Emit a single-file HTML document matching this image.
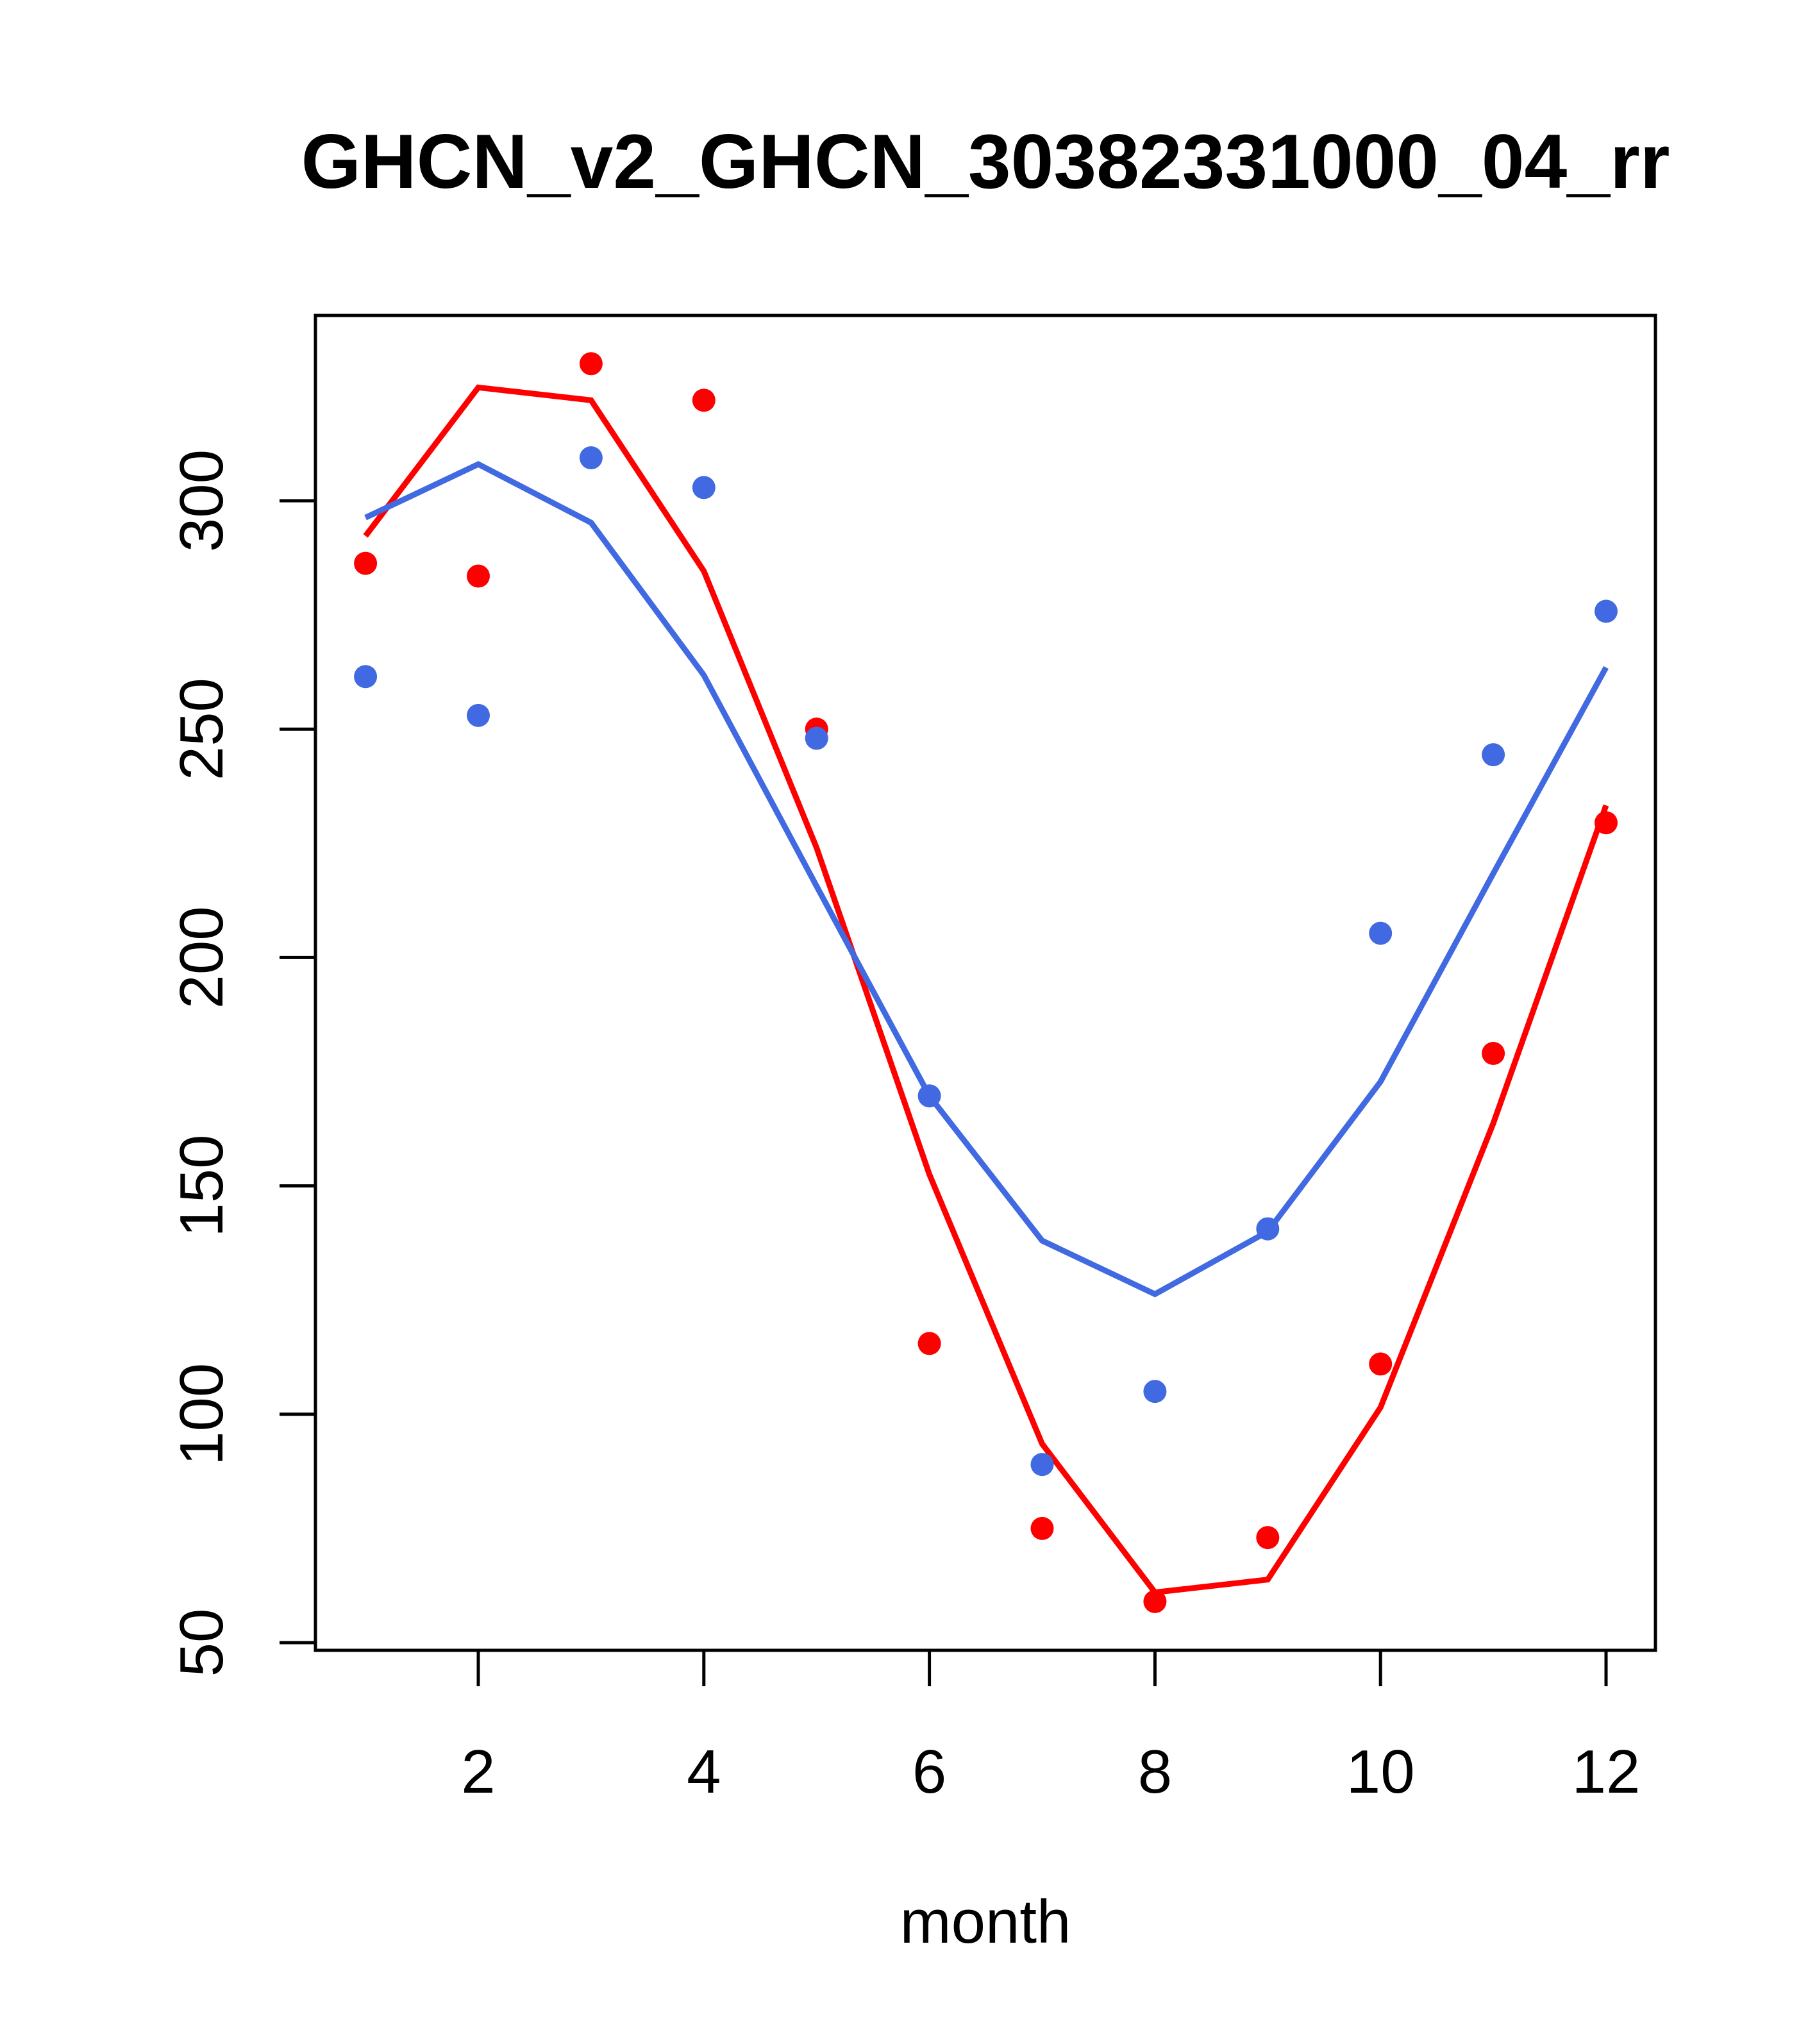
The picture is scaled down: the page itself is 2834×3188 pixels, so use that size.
<!DOCTYPE html>
<html><head><meta charset="utf-8"><style>html,body{margin:0;padding:0;background:#fff}svg{display:block}</style></head>
<body>
<svg id="chart" width="2834" height="3188" xmlns="http://www.w3.org/2000/svg" font-family="Liberation Sans, Arial, sans-serif">
<rect width="2834" height="3188" fill="#fff"/>
<text x="1537" y="293" font-size="120" font-weight="bold" text-anchor="middle">GHCN_v2_GHCN_30382331000_04_rr</text>
<g id="plot"></g>
<text x="1537" y="3030" font-size="96" text-anchor="middle">month</text>
</svg>
<script>
const months = [1,2,3,4,5,6,7,8,9,10,11,12];
const redPoints = [286.3,283.5,330,322,250,115.5,75,59,73,111,179,229.5];
const bluePoints = [261.5,253,309.4,302.9,248,169.7,89,105,140.6,205.3,244.4,275.8];
const redLine = [292.3,324.8,322,284.6,224,152.5,93.5,61,63.8,101.5,163.7,233.3];
const blueLine = [296.3,308,295.2,261.8,215.6,169.7,138,126.3,140,172.8,218.4,263.5];
const xTicks = [2,4,6,8,10,12];
const yTicks = [50,100,150,200,250,300];

const NS = "http://www.w3.org/2000/svg";
const g = document.getElementById('plot');
const X = m => 746 + (m - 2) * 175.9;
const Y = v => 781 + (300 - v) / 50 * 356.2;
function mk(tag, attrs){const e=document.createElementNS(NS,tag);for(const k in attrs)e.setAttribute(k,attrs[k]);g.appendChild(e);return e;}

const box = mk('rect',{x:492,y:492,width:2090,height:2082,fill:'none',stroke:'#000','stroke-width':5});



xTicks.forEach(t=>{
  const l = mk('line',{x1:X(t),x2:X(t),y1:2574,y2:2630,stroke:'#000','stroke-width':5});
  
  
  const tx = mk('text',{x:X(t),y:2796,'font-size':96,'text-anchor':'middle'});
  tx.textContent = t;
  
  
});
yTicks.forEach(t=>{
  const l = mk('line',{x1:436,x2:492,y1:Y(t),y2:Y(t),stroke:'#000','stroke-width':5});
  
  
  const tx = mk('text',{x:0,y:0,'font-size':96,'text-anchor':'middle',transform:`translate(347,${Y(t)}) rotate(-90)`});
  tx.textContent = t;
  
  
});
const clip = mk('clipPath',{id:'c'});
const cr = document.createElementNS(NS,'rect');cr.setAttribute('x',492);cr.setAttribute('y',492);cr.setAttribute('width',2090);cr.setAttribute('height',2082);clip.appendChild(cr);

function line(vals,color,name){
  const p = mk('polyline',{points:vals.map((v,i)=>X(months[i])+','+Y(v)).join(' '),fill:'none',stroke:color,'stroke-width':9,'clip-path':'url(#c)'});
  
  
}
function pts(vals,color,name){
  vals.forEach((v,i)=>{
    const c = mk('circle',{cx:X(months[i]),cy:Y(v),r:18,fill:color});
    
    
  });
}
line(redLine,'#ff0000','red-line');
line(blueLine,'#4169e1','blue-line');
pts(redPoints,'#ff0000','red-point');
pts(bluePoints,'#4169e1','blue-point');
</script>
</body></html>
